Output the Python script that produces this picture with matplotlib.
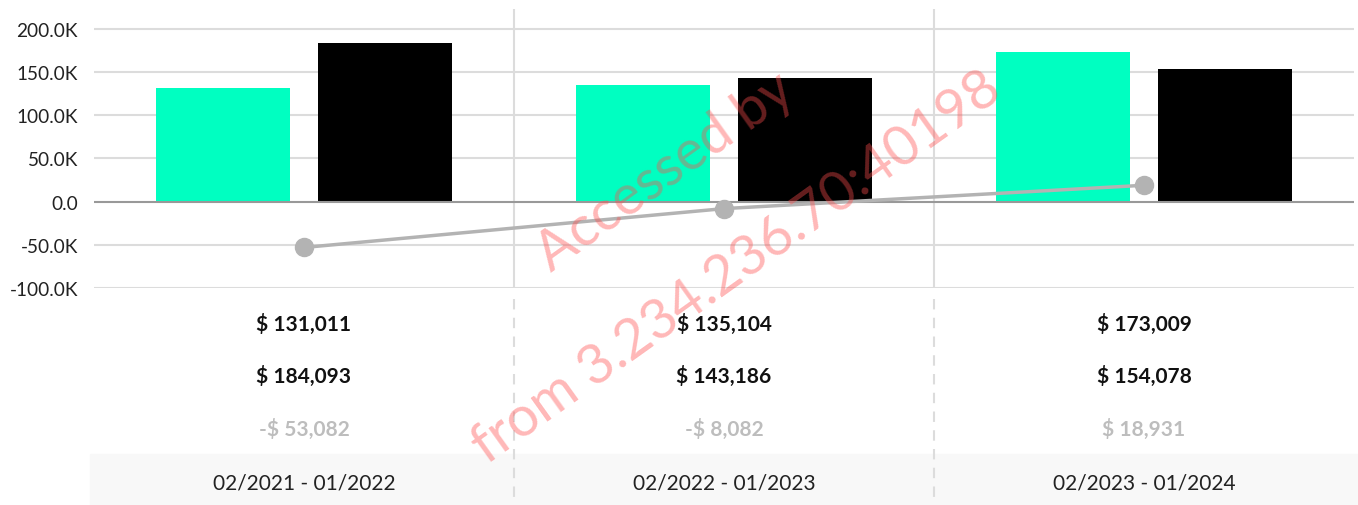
import matplotlib
matplotlib.use("Agg")
import matplotlib.pyplot as plt
from matplotlib.patches import Rectangle
from matplotlib.ticker import FuncFormatter

categories = ["02/2021 - 01/2022", "02/2022 - 01/2023", "02/2023 - 01/2024"]
series_a = [131011, 135104, 173009]   # green
series_b = [184093, 143186, 154078]   # black
diff = [-53082, -8082, 18931]         # gray line
yticks = [-100000, -50000, 0, 50000, 100000, 150000, 200000]

GREEN = "#00FFC1"
GRID = "#dcdcdc"
FONT = "Lato"

plt.rcParams["font.family"] = [FONT, "DejaVu Sans"]

W, H = 1358, 506
fig = plt.figure(figsize=(W / 100, H / 100), dpi=100)

def fx(px):
    return px / W

def fy(py):
    return 1 - py / H

fig.patches.append(Rectangle((fx(90), 0), 1 - fx(90), fy(455), transform=fig.transFigure,
                             color="#f8f8f8", zorder=-5))

left, right = 94, 1354
top, zero_bottom = 10, 289
ax = fig.add_axes([fx(left), fy(zero_bottom), fx(right - left), fy(top) - fy(zero_bottom)])

n = len(categories)
xs = [i + 0.5 for i in range(n)]
bw = 0.317
off = 0.193
ax.bar([x - off for x in xs], series_a, width=bw, color=GREEN, zorder=3)
ax.bar([x + off for x in xs], series_b, width=bw, color="black", zorder=3)
ax.plot(xs, diff, color="#b3b3b3", lw=2.5, marker="o", markersize=13,
        markerfacecolor="#b3b3b3", markeredgecolor="#b3b3b3", zorder=4)

ax.set_xlim(0, n)
ax.set_ylim(-100000, 223000)
ax.set_yticks(yticks)
ax.yaxis.set_major_formatter(FuncFormatter(lambda v, p: "0.0" if v == 0 else f"{v/1000:.1f}K"))
ax.tick_params(axis="y", length=0, labelsize=13.7, pad=11.5, colors="#222222")
ax.set_xticks([])
for s in ax.spines.values():
    s.set_visible(False)
for t in yticks:
    if t == 0:
        ax.axhline(0, color="#999999", lw=1.5, zorder=3.5)
    else:
        ax.axhline(t, color=GRID, lw=1.5, zorder=1)
for i in range(1, n):
    ax.axvline(i, color=GRID, lw=1.5, zorder=1)

# table area
tax = fig.add_axes([fx(left), 0, fx(right - left), fy(zero_bottom)])
tax.patch.set_alpha(0)
tax.set_xlim(0, n)
tax.set_ylim(H, zero_bottom)
tax.axis("off")
for i in range(1, n):
    tax.plot([i, i], [300, H], color=GRID, lw=1.5, ls=(0, (5, 4)), zorder=2)
for i, x in enumerate(xs):
    tax.text(x, 324, f"$ {series_a[i]:,}", ha="center", va="center", fontsize=15,
             fontweight="bold", color="#111111")
    tax.text(x, 376, f"$ {series_b[i]:,}", ha="center", va="center", fontsize=15,
             fontweight="bold", color="#111111")
    d = diff[i]
    s = f"-$ {abs(d):,}" if d < 0 else f"$ {d:,}"
    tax.text(x, 429, s, ha="center", va="center", fontsize=15, fontweight="bold", color="#bdbdbd")
    tax.text(x, 484, categories[i], ha="center", va="center", fontsize=15, color="#222222")

# watermark
wm = dict(color="#ff4d4d", alpha=0.4, rotation=35.5, ha="center", va="center",
          fontsize=40, family=[FONT, "DejaVu Sans"], rotation_mode="anchor", zorder=10)
fig.text(fx(665), fy(172), "Accessed by", **wm)
fig.text(fx(737), fy(268), "from 3.234.236.70:40198", **wm)

fig.savefig("out.png", dpi=100)
